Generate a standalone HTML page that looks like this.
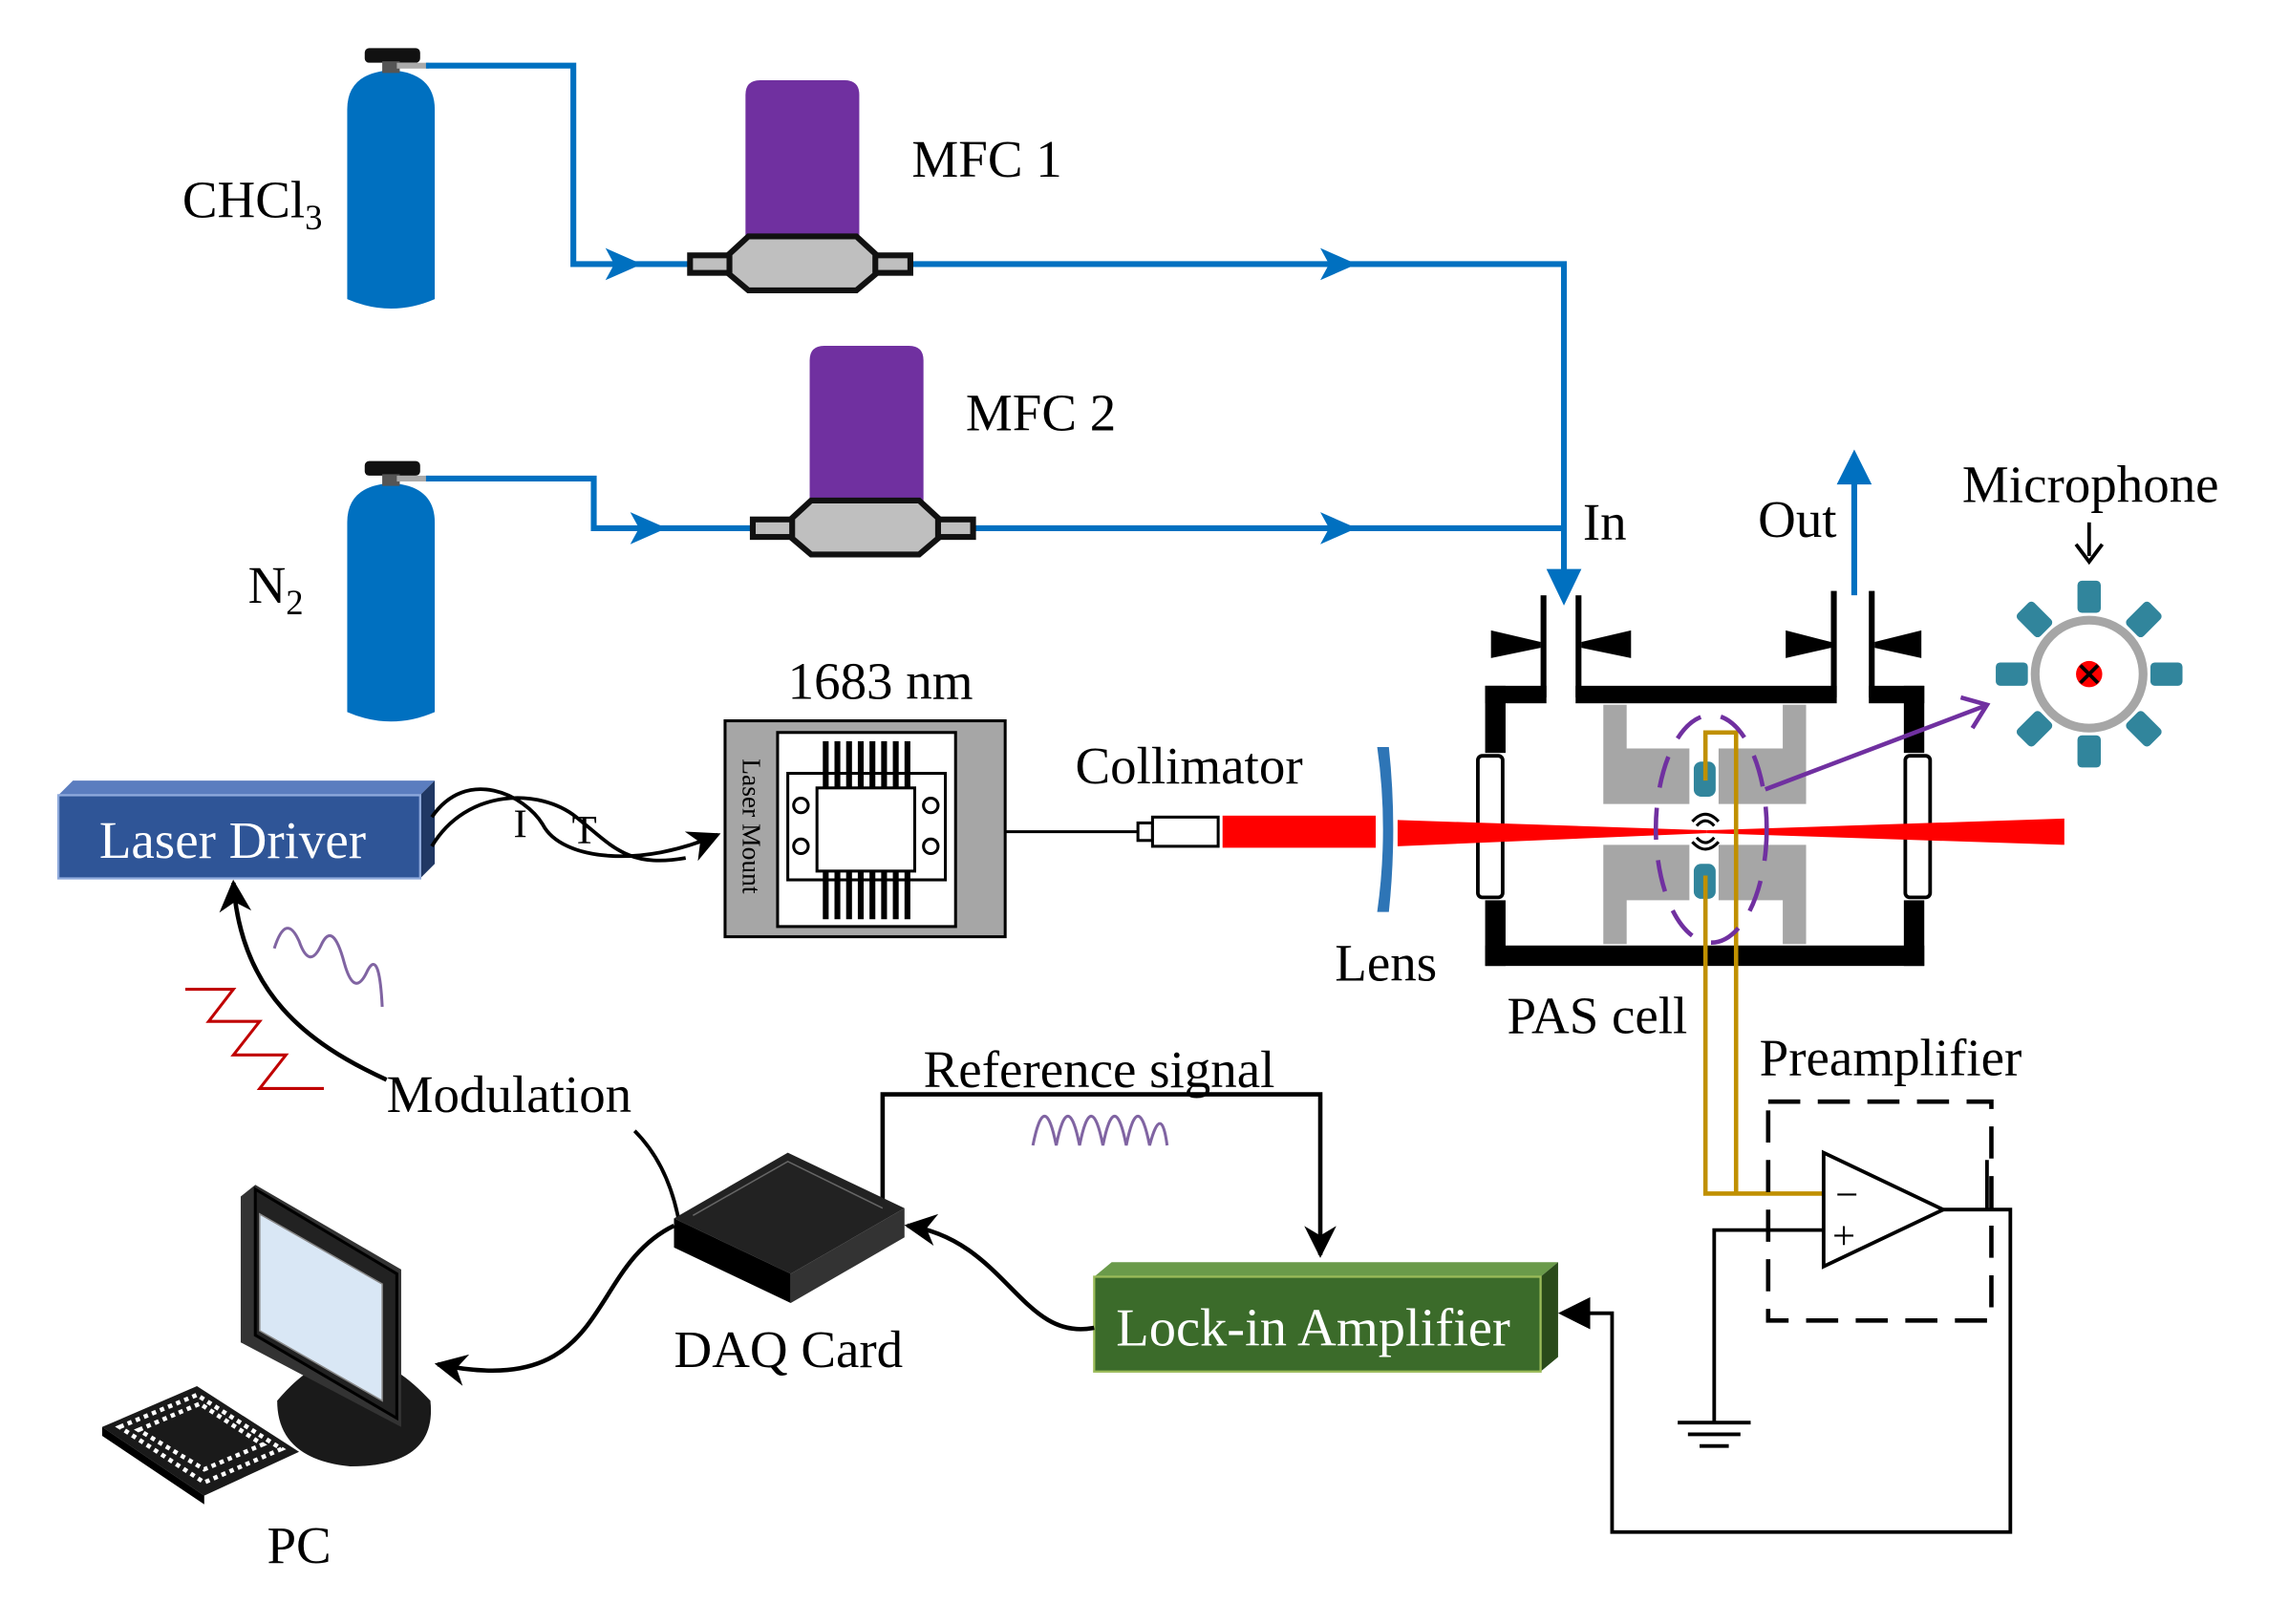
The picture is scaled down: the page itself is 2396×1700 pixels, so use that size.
<!DOCTYPE html>
<html><head><meta charset="utf-8"><style>
html,body{margin:0;padding:0;background:#fff;}
svg{display:block;}
text{font-family:"Liberation Serif",serif;}
</style></head><body>
<svg width="2396" height="1700" viewBox="0 0 1569 1113" preserveAspectRatio="none" xmlns="http://www.w3.org/2000/svg">
<defs>
<marker id="ak" viewBox="0 0 10 10" markerWidth="22" markerHeight="22" refX="9" refY="5" orient="auto" markerUnits="userSpaceOnUse"><path d="M0,0 L10,5 L0,10 L3,5z" fill="#000"/></marker>
</defs>

<!-- Gas cylinders -->
<g fill="#0070C0">
<path d="M238,75 Q238,50 268,48 Q298,50 298,75 L298,205 Q268,218 238,205z"/>
<path d="M238,358 Q238,333 268,331 Q298,333 298,358 L298,488 Q268,501 238,488z"/>
</g>
<rect x="250" y="33" width="38" height="10" rx="3" fill="#111"/>
<rect x="262" y="42" width="12" height="8" fill="#555"/>
<rect x="250" y="316" width="38" height="10" rx="3" fill="#111"/>
<rect x="262" y="325" width="12" height="8" fill="#555"/>
<rect x="272" y="43" width="22" height="4" fill="#aaa"/>
<rect x="272" y="326" width="22" height="4" fill="#aaa"/>

<!-- blue pipes -->
<g fill="none" stroke="#0070C0" stroke-width="4">
<path d="M292,45 H393 V181 H475"/>
<path d="M625,181 H1072 V400"/>
<path d="M292,328 H407 V362 H517"/>
<path d="M668,362 H1072"/>
<path d="M1271,408 V320"/>
</g>
<g fill="#0070C0">
<path d="M415,170 L440,181 L415,192 L421,181z"/>
<path d="M905,170 L930,181 L905,192 L911,181z"/>
<path d="M432,351 L457,362 L432,373 L438,362z"/>
<path d="M905,351 L930,362 L905,373 L911,362z"/>
<path d="M1060,390 L1072,415 L1084,390z"/>
<path d="M1259,332 L1271,308 L1283,332z"/>
</g>

<!-- MFCs -->
<path d="M511,65 Q511,55 521,55 H579 Q589,55 589,65 V168 H511z" fill="#7030A0"/>
<path d="M555,247 Q555,237 565,237 H623 Q633,237 633,247 V350 H555z" fill="#7030A0"/>
<g fill="#bfbfbf" stroke="#111" stroke-width="4">
<rect x="473" y="175" width="30" height="12"/>
<rect x="597" y="175" width="27" height="12"/>
<path d="M513,162 H587 L600,174 V188 L587,199 H513 L500,188 V174z"/>
<rect x="516" y="356" width="30" height="12"/>
<rect x="640" y="356" width="27" height="12"/>
<path d="M556,343 H630 L643,355 V369 L630,380 H556 L543,369 V355z"/>
</g>

<!-- labels -->
<g font-size="36" fill="#000">
<text x="125" y="149">CHCl<tspan font-size="24" dy="8">3</tspan></text>
<text x="170" y="413">N<tspan font-size="24" dy="8">2</tspan></text>
<text x="625" y="121">MFC 1</text>
<text x="662" y="295">MFC 2</text>
<text x="1085" y="370">In</text>
<text x="1205" y="368">Out</text>
<text x="1345" y="344">Microphone</text>
<text x="540" y="479">1683 nm</text>
<text x="737" y="537">Collimator</text>
<text x="915" y="672">Lens</text>
<text x="1033" y="708">PAS cell</text>
<text x="1206" y="737">Preamplifier</text>
<text x="633" y="745">Reference signal</text>
<text x="265" y="762">Modulation</text>
<text x="462" y="937">DAQ Card</text>
<text x="183" y="1071">PC</text>
</g>

<!-- microphone arrow -->
<path d="M1432,358 V381" stroke="#000" stroke-width="2.5"/>
<path d="M1423,373 L1432,385 L1441,373" fill="none" stroke="#000" stroke-width="2.5"/>

<!-- Microphone symbol -->
<g transform="translate(1432,462)">
<circle r="37" fill="#fff" stroke="#a6a6a6" stroke-width="6"/>
<circle r="9" fill="#ff0000"/>
<path d="M-6,-6 L6,6 M6,-6 L-6,6" stroke="#000" stroke-width="2.5"/>
<g fill="#31859C">
<rect x="-8" y="-64" width="16" height="22" rx="3"/>
<rect x="-8" y="-64" width="16" height="22" rx="3" transform="rotate(45)"/>
<rect x="-8" y="-64" width="16" height="22" rx="3" transform="rotate(90)"/>
<rect x="-8" y="-64" width="16" height="22" rx="3" transform="rotate(135)"/>
<rect x="-8" y="-64" width="16" height="22" rx="3" transform="rotate(180)"/>
<rect x="-8" y="-64" width="16" height="22" rx="3" transform="rotate(225)"/>
<rect x="-8" y="-64" width="16" height="22" rx="3" transform="rotate(270)"/>
<rect x="-8" y="-64" width="16" height="22" rx="3" transform="rotate(315)"/>
</g>
</g>

<!-- PAS cell -->
<g fill="#000">
<rect x="1018" y="470" width="42" height="12"/>
<rect x="1080" y="470" width="179" height="12"/>
<rect x="1281" y="470" width="38" height="12"/>
<rect x="1018" y="470" width="14" height="46"/>
<rect x="1305" y="470" width="14" height="46"/>
<rect x="1018" y="617" width="14" height="45"/>
<rect x="1305" y="617" width="14" height="45"/>
<rect x="1018" y="648" width="301" height="14"/>
<rect x="1056" y="408" width="4" height="70"/>
<rect x="1080" y="408" width="4" height="70"/>
<rect x="1255" y="405" width="4" height="73"/>
<rect x="1281" y="405" width="4" height="73"/>
<path d="M1022,432 L1056,440 V444 L1022,451z"/>
<path d="M1118,432 L1084,440 V444 L1118,451z"/>
<path d="M1224,432 L1255,440 V444 L1224,451z"/>
<path d="M1317,432 L1285,440 V444 L1317,451z"/>
</g>
<g fill="#a6a6a6">
<path d="M1099,483 H1115 V513 H1222 V483 H1238 V551 H1178 V513 H1158 V551 H1099z"/>
<path d="M1099,579 H1158 V617 H1178 V579 H1238 V647 H1222 V617 H1115 V647 H1099z"/>
</g>
<rect x="1013" y="518" width="17" height="97" rx="3" fill="#fff" stroke="#000" stroke-width="2.5"/>
<rect x="1306" y="518" width="17" height="97" rx="3" fill="#fff" stroke="#000" stroke-width="2.5"/>

<!-- laser beam -->
<rect x="838" y="559" width="105" height="22" fill="#ff0000"/>
<path d="M958,562 L1170,569 L1170,571 L958,580z" fill="#ff0000"/>
<path d="M1170,569 L1415,561 L1415,579 L1170,571z" fill="#ff0000"/>
<!-- lens -->
<path d="M944,512 Q952,568 944,625 L952,625 Q958,568 952,512z" fill="#2E75B6"/>
<!-- collimator -->
<line x1="638" y1="570" x2="782" y2="570" stroke="#000" stroke-width="2"/>
<rect x="780" y="564" width="10" height="12" fill="#fff" stroke="#000" stroke-width="2"/>
<rect x="790" y="560" width="45" height="20" fill="#fff" stroke="#000" stroke-width="2"/>

<!-- transducers -->
<rect x="1161" y="522" width="15" height="24" rx="5" fill="#31859C"/>
<rect x="1161" y="592" width="15" height="24" rx="5" fill="#31859C"/>
<g fill="none" stroke="#000" stroke-width="2">
<path d="M1160,563 Q1169,553 1178,563"/><path d="M1163,566 Q1169,559 1175,566"/>
<path d="M1160,577 Q1169,587 1178,577"/><path d="M1163,574 Q1169,581 1175,574"/>
</g>
<!-- gold wires -->
<path d="M1169,535 V502 H1190 V818 H1250 M1169,600 V818 H1250" fill="none" stroke="#C09000" stroke-width="3"/>
<!-- purple dashed ellipse & arrow -->
<ellipse cx="1173" cy="568" rx="38" ry="78" fill="none" stroke="#7030A0" stroke-width="3" stroke-dasharray="22,14"/>
<path d="M1210,541 L1360,484" stroke="#7030A0" stroke-width="3"/>
<path d="M1344,478 L1362,483 L1352,499" fill="none" stroke="#7030A0" stroke-width="3"/>

<!-- Laser mount -->
<rect x="497" y="494" width="192" height="148" fill="#a6a6a6" stroke="#000" stroke-width="2"/>
<rect x="533" y="502" width="122" height="133" fill="#fff" stroke="#000" stroke-width="2"/>
<rect x="540" y="530" width="108" height="73" fill="#fff" stroke="#000" stroke-width="2"/>
<rect x="560" y="540" width="67" height="57" fill="#fff" stroke="#000" stroke-width="2"/>
<g stroke="#000" stroke-width="4">
<path d="M566,508 V540 M574,508 V540 M582,508 V540 M590,508 V540 M598,508 V540 M606,508 V540 M614,508 V540 M622,508 V540"/>
<path d="M566,597 V630 M574,597 V630 M582,597 V630 M590,597 V630 M598,597 V630 M606,597 V630 M614,597 V630 M622,597 V630"/>
</g>
<g fill="#fff" stroke="#000" stroke-width="2">
<circle cx="549" cy="552" r="5"/><circle cx="549" cy="580" r="5"/>
<circle cx="638" cy="552" r="5"/><circle cx="638" cy="580" r="5"/>
</g>
<text transform="translate(509,520) rotate(90)" font-size="18" font-family="Liberation Mono,monospace">Laser Mount</text>

<!-- Laser driver -->
<path d="M40,545 L50,535 H298 L288,545z" fill="#5B7DBF"/>
<path d="M288,545 L298,535 V592 L288,602z" fill="#203864"/>
<rect x="40" y="545" width="248" height="57" fill="#2F5597" stroke="#8FAADC" stroke-width="1.5"/>
<text x="68" y="588" font-size="36" fill="#fff">Laser Driver</text>

<!-- cables I T -->
<g fill="none" stroke="#000" stroke-width="2.5">
<path d="M296,560 C320,525 360,545 372,565 C385,590 440,595 492,572" marker-end="url(#ak)"/>
<path d="M296,580 C320,540 370,540 395,560 C420,580 430,595 470,588"/>
</g>
<text x="352" y="574" font-size="28">I</text>
<text x="392" y="578" font-size="28">T</text>

<!-- modulation -->
<path d="M265,740 C210,715 165,680 160,605" fill="none" stroke="#000" stroke-width="3" marker-end="url(#ak)"/>
<path d="M188,650 Q196,625 205,645 Q212,665 220,648 Q228,630 236,660 Q243,685 252,665 Q260,650 262,690" fill="none" stroke="#8064A2" stroke-width="2"/>
<path d="M127,678 H160 L143,700 H178 L160,723 H196 L178,746 H222" fill="none" stroke="#C00000" stroke-width="2"/>
<path d="M435,775 C450,790 460,810 465,835" fill="none" stroke="#000" stroke-width="2.5"/>

<!-- reference signal -->
<path d="M605,825 V750 H905 V860" fill="none" stroke="#000" stroke-width="3" marker-end="url(#ak)"/>
<path d="M708,785 Q716,745 724,785 Q732,745 740,785 Q748,745 756,785 Q764,745 772,785 Q780,745 788,785 Q796,755 800,785" fill="none" stroke="#8064A2" stroke-width="2"/>

<!-- DAQ -->
<path d="M462,835 L540,790 L620,828 L542,873z" fill="#222"/>
<path d="M462,835 L542,873 V893 L462,855z" fill="#000"/>
<path d="M542,873 L620,828 V848 L542,893z" fill="#333"/>
<path d="M475,833 L540,796 L605,828" fill="none" stroke="#666" stroke-width="1"/>

<!-- Lock-in -->
<path d="M750,875 L762,865 H1068 L1056,875z" fill="#6A9A4A"/>
<path d="M1056,875 L1068,865 V930 L1056,940z" fill="#2A4A1A"/>
<rect x="750" y="875" width="306" height="65" fill="#3B6B2A" stroke="#9BBB59" stroke-width="1.5"/>
<text x="765" y="922" font-size="37" fill="#fff">Lock-in Amplifier</text>
<path d="M750,910 C700,920 690,850 622,840" fill="none" stroke="#000" stroke-width="3" marker-end="url(#ak)"/>
<path d="M462,840 C400,870 420,960 300,935" fill="none" stroke="#000" stroke-width="3" marker-end="url(#ak)"/>

<!-- PC -->
<path d="M190,960 Q240,900 295,960 Q300,1005 240,1005 Q190,1000 190,960z" fill="#1a1a1a"/>
<path d="M165,820 L175,812 L275,870 L275,978 L165,920z" fill="#333"/>
<path d="M175,815 L272,873 L272,972 L175,915z" fill="#222" stroke="#000" stroke-width="2"/>
<path d="M178,832 L262,880 L262,960 L178,912z" fill="#D9E7F5" stroke="#888" stroke-width="1"/>
<path d="M70,978 L135,950 L205,995 L140,1025z" fill="#1a1a1a"/>
<path d="M82,978 L135,956 L193,993 L140,1016z" fill="none" stroke="#fff" stroke-width="3" stroke-dasharray="3,3"/>
<path d="M95,980 L137,962 L180,990 L140,1007z" fill="none" stroke="#fff" stroke-width="3" stroke-dasharray="3,3"/>
<path d="M70,978 L140,1025 V1031 L70,984z" fill="#000"/>

<!-- Preamplifier -->
<rect x="1212" y="755" width="153" height="150" fill="none" stroke="#000" stroke-width="3" stroke-dasharray="22,12"/>
<path d="M1250,790 L1250,868 L1332,829z" fill="#fff" stroke="#000" stroke-width="2.5"/>
<text x="1258" y="828" font-size="28">−</text>
<text x="1256" y="856" font-size="28">+</text>
<g fill="none" stroke="#000" stroke-width="2.5">
<path d="M1332,829 H1378 V1050 H1105 V900 H1078"/>
<path d="M1250,843 H1175 V975"/>
<path d="M1150,975 H1200 M1157,983 H1193 M1165,991 H1185"/>
<path d="M1362,829 V795"/>
</g>
<path d="M1090,889 L1068,900 L1090,911z" fill="#000"/>
</svg>
</body></html>
